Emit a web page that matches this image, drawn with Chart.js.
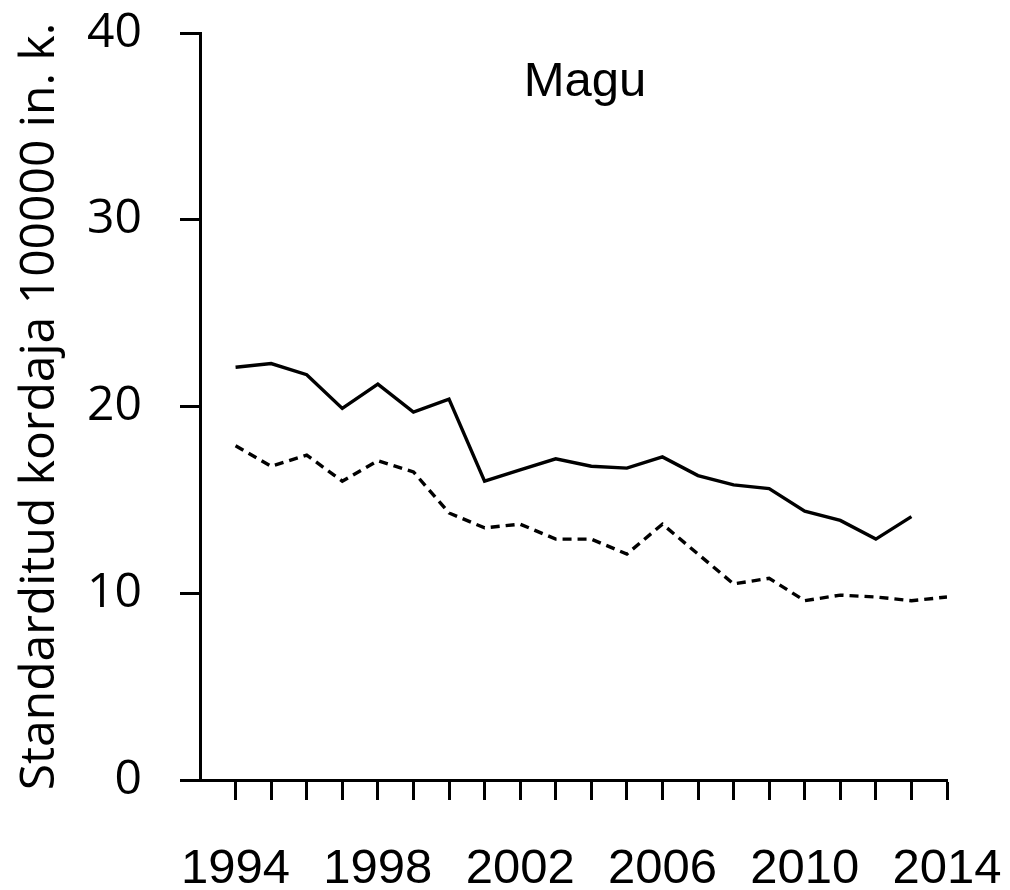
<!DOCTYPE html>
<html>
<head>
<meta charset="utf-8">
<script src="https://cdn.jsdelivr.net/npm/chart.js@4/dist/chart.umd.min.js"></script>
<style>
  html, body { margin: 0; padding: 0; background: #fff; }
  #chartCanvas { display: block; }
</style>
</head>
<body>
<canvas id="chartCanvas" width="1010" height="890"></canvas>
<script>
// Magu: standardised rate per 100000, two series
const years = [1994, 1995, 1996, 1997, 1998, 1999, 2000, 2001, 2002, 2003, 2004,
               2005, 2006, 2007, 2008, 2009, 2010, 2011, 2012, 2013, 2014];
const solidValues = [22.1, 22.3, 21.7, 19.9, 21.2, 19.7, 20.4, 16.0, 16.6, 17.2, 16.8,
                     16.7, 17.3, 16.3, 15.8, 15.6, 14.4, 13.9, 12.9, 14.1];
const dashedValues = [17.9, 16.8, 17.4, 16.0, 17.1, 16.5, 14.3, 13.5, 13.7, 12.9, 12.9,
                      12.1, 13.7, 12.1, 10.5, 10.8, 9.6, 9.9, 9.8, 9.6, 9.8];
const yTicks = [0, 10, 20, 30, 40];
const xLabelEvery = 4;
const titleText = 'Magu';
const yTitleText = 'Standarditud kordaja 100000 in. k.';

(function() {
  'use strict';

  if (typeof Chart === 'undefined') {
    console.error('Chart.js not loaded');
    return;
  }

  const toPoints = (vals) => vals.map((v, i) => ({ x: years[i], y: v }));

  const sansArial = '"Liberation Sans", Arial, sans-serif';
  const sansOpen = '"Open Sans", "Noto Sans", sans-serif';

  // Panel title drawn inside the plot area
  const panelTitle = {
    id: 'panelTitle',
    afterDraw(chart) {
      const c = chart.ctx;
      c.save();
      c.font = '49px ' + sansArial;
      c.fillStyle = '#000';
      c.textAlign = 'center';
      c.textBaseline = 'alphabetic';
      c.fillText(titleText, 585, 96);
      c.restore();
    }
  };

  const ctx = document.getElementById('chartCanvas').getContext('2d');

  new Chart(ctx, {
    type: 'line',
    data: {
      datasets: [
        {
          data: toPoints(solidValues),
          borderColor: '#000',
          borderWidth: 3.4,
          pointRadius: 0,
          tension: 0,
          fill: false
        },
        {
          data: toPoints(dashedValues),
          borderColor: '#000',
          borderWidth: 3.4,
          borderDash: [9, 6],
          pointRadius: 0,
          tension: 0,
          fill: false
        }
      ]
    },
    options: {
      responsive: false,
      animation: false,
      maintainAspectRatio: false,
      layout: { padding: { top: 33, right: 63, bottom: 0, left: 0 } },
      plugins: {
        legend: { display: false },
        title: { display: false },
        tooltip: { enabled: false }
      },
      scales: {
        x: {
          type: 'linear',
          min: years[0] - 1,
          max: years[years.length - 1],
          afterBuildTicks: (scale) => {
            scale.ticks = years.map(v => ({ value: v }));
          },
          // fixed band height; label overhang is handled by layout padding
          afterFit: (scale) => {
            scale.height = 110;
            scale.paddingLeft = 0;
            scale.paddingRight = 0;
          },
          ticks: {
            autoSkip: false,
            maxRotation: 0,
            padding: 40,
            color: '#000',
            font: { family: sansArial, size: 49 },
            callback: (v) => ((v - years[0]) % xLabelEvery === 0 ? String(v) : '')
          },
          grid: {
            display: true,
            drawOnChartArea: false,
            drawTicks: true,
            tickLength: 20,
            tickWidth: 3,
            tickColor: '#000',
            color: '#000'
          },
          border: { display: true, color: '#000', width: 3 }
        },
        y: {
          min: yTicks[0],
          max: yTicks[yTicks.length - 1],
          afterBuildTicks: (scale) => {
            scale.ticks = yTicks.map(v => ({ value: v }));
          },
          afterFit: (scale) => {
            scale.width = 200;
            scale.paddingTop = 0;
            scale.paddingBottom = 0;
          },
          ticks: {
            padding: 38,
            color: '#000',
            font: { family: sansOpen, size: 48 }
          },
          grid: {
            display: true,
            drawOnChartArea: false,
            drawTicks: true,
            tickLength: 20,
            tickWidth: 3,
            tickColor: '#000',
            color: '#000'
          },
          border: { display: true, color: '#000', width: 3 },
          title: {
            display: true,
            text: yTitleText,
            color: '#000',
            font: { family: sansOpen, size: 48 },
            padding: { top: 12, bottom: 0 }
          }
        }
      }
    },
    plugins: [panelTitle]
  });
})();
</script>
</body>
</html>
